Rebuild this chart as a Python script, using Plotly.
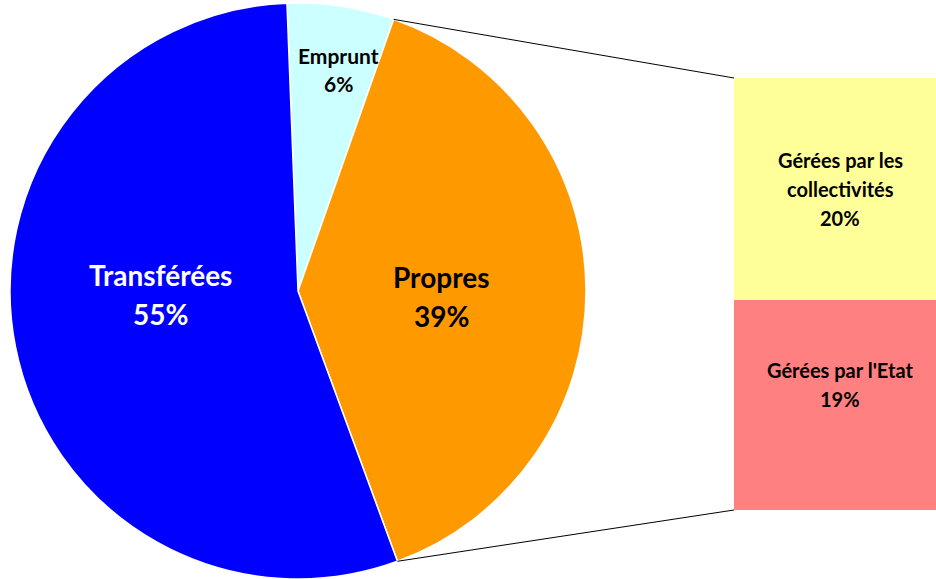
import math
import plotly.graph_objects as go

# ---- data ----
pie_labels = ["Emprunt", "Propres", "Transférées"]
pie_values = [6, 39, 55]
pie_colors = ["#CCFFFF", "#FF9900", "#0000FF"]

bar_labels = ["Gérées par l'Etat", "Gérées par les collectivités"]
bar_label_lines = [["Gérées par l'Etat"], ["Gérées par les", "collectivités"]]
bar_values = [19, 20]
bar_colors = ["#FF8080", "#FFFF99"]

W, H = 936, 579
FONT = "Lato"

# ---- layout / style ----
pie_dom_x = [8 / W, 588 / W]
pie_dom_y = [0.0, 1 - 3 / H]
rotation = -2.2
bar_dom_x = [734 / W, 1.0]
bar_dom_y = [1 - 510 / H, 1 - 78 / H]

# label placement (offset of label centre from pie centre, in units of radius)
pie_label_offset = [(0.142, -0.77), (0.497, 0.02), (-0.479, 0.012)]
pie_text_size = [21, 28, 28]
pie_text_color = ["black", "black", "white"]
pie_line_gap = [28, 39, 39]
bar_text_size = 20
bar_line_gap = 29
bar_text_yshift = [20, 0]

fig = go.Figure()

fig.add_trace(go.Pie(
    labels=pie_labels,
    values=pie_values,
    sort=False,
    direction="clockwise",
    rotation=rotation,
    marker=dict(colors=pie_colors, line=dict(color="white", width=1.5)),
    textinfo="none",
    domain=dict(x=pie_dom_x, y=pie_dom_y),
    showlegend=False,
    hoverinfo="label+percent",
))

for lab, val, col in zip(bar_labels, bar_values, bar_colors):
    fig.add_trace(go.Bar(
        x=[0], y=[val], width=[1],
        marker=dict(color=col, line=dict(width=0)),
        showlegend=False, hoverinfo="text", hovertext=[f"{lab} {val}%"],
        xaxis="x", yaxis="y",
    ))

total_bar = sum(bar_values)

# ---- pie geometry (as plotly lays it out) ----
dom_w = (pie_dom_x[1] - pie_dom_x[0]) * W
dom_h = (pie_dom_y[1] - pie_dom_y[0]) * H
r = min(dom_w, dom_h) / 2
cx = (pie_dom_x[0] + pie_dom_x[1]) / 2 * W
cy = (1 - (pie_dom_y[0] + pie_dom_y[1]) / 2) * H
tot = sum(pie_values)
a1 = math.radians(rotation + 360 * pie_values[0] / tot)
a2 = math.radians(rotation + 360 * (pie_values[0] + pie_values[1]) / tot)

def pt(a):
    return ((cx + r * math.sin(a)) / W, 1 - (cy - r * math.cos(a)) / H)

p1 = pt(a1)
p2 = pt(a2)
shapes = [
    dict(type="line", xref="paper", yref="paper", x0=p1[0], y0=p1[1],
         x1=bar_dom_x[0], y1=bar_dom_y[1], line=dict(color="black", width=1)),
    dict(type="line", xref="paper", yref="paper", x0=p2[0], y0=p2[1],
         x1=bar_dom_x[0], y1=bar_dom_y[0], line=dict(color="black", width=1)),
]

annotations = []
# pie labels
for i, (lab, val) in enumerate(zip(pie_labels, pie_values)):
    pct = round(100 * val / tot)
    lines = [lab, f"{pct}%"]
    ox, oy = pie_label_offset[i]
    lx = cx + ox * r
    ly = cy + oy * r
    n = len(lines)
    for j, t in enumerate(lines):
        yy = ly + (j - (n - 1) / 2) * pie_line_gap[i]
        annotations.append(dict(
            x=lx / W, y=1 - yy / H, xref="paper", yref="paper",
            text=t, showarrow=False, xanchor="center", yanchor="middle",
            font=dict(family=FONT, size=pie_text_size[i], color=pie_text_color[i], weight="bold"),
        ))

# bar labels
cum = 0
for i, (lines0, val) in enumerate(zip(bar_label_lines, bar_values)):
    mid = cum + val / 2
    cum += val
    lines = lines0 + [f"{val}%"]
    n = len(lines)
    for j, t in enumerate(lines):
        annotations.append(dict(
            x=0, y=mid, xref="x", yref="y",
            yshift=bar_text_yshift[i] - (j - (n - 1) / 2) * bar_line_gap,
            text=t, showarrow=False, xanchor="center", yanchor="middle",
            font=dict(family=FONT, size=bar_text_size, color="black", weight="bold"),
        ))

fig.update_layout(
    width=W, height=H,
    margin=dict(l=0, r=0, t=0, b=0),
    paper_bgcolor="white", plot_bgcolor="white",
    barmode="stack", bargap=0,
    xaxis=dict(domain=bar_dom_x, range=[-0.5, 0.45], visible=False, fixedrange=True),
    yaxis=dict(domain=bar_dom_y, range=[0, total_bar], visible=False, fixedrange=True),
    shapes=shapes,
    annotations=annotations,
    font=dict(family=FONT),
)

fig.write_html(
    "out.html",
    config={"displayModeBar": False},
    post_script="document.body.style.margin='0';document.body.style.overflow='hidden';",
)
